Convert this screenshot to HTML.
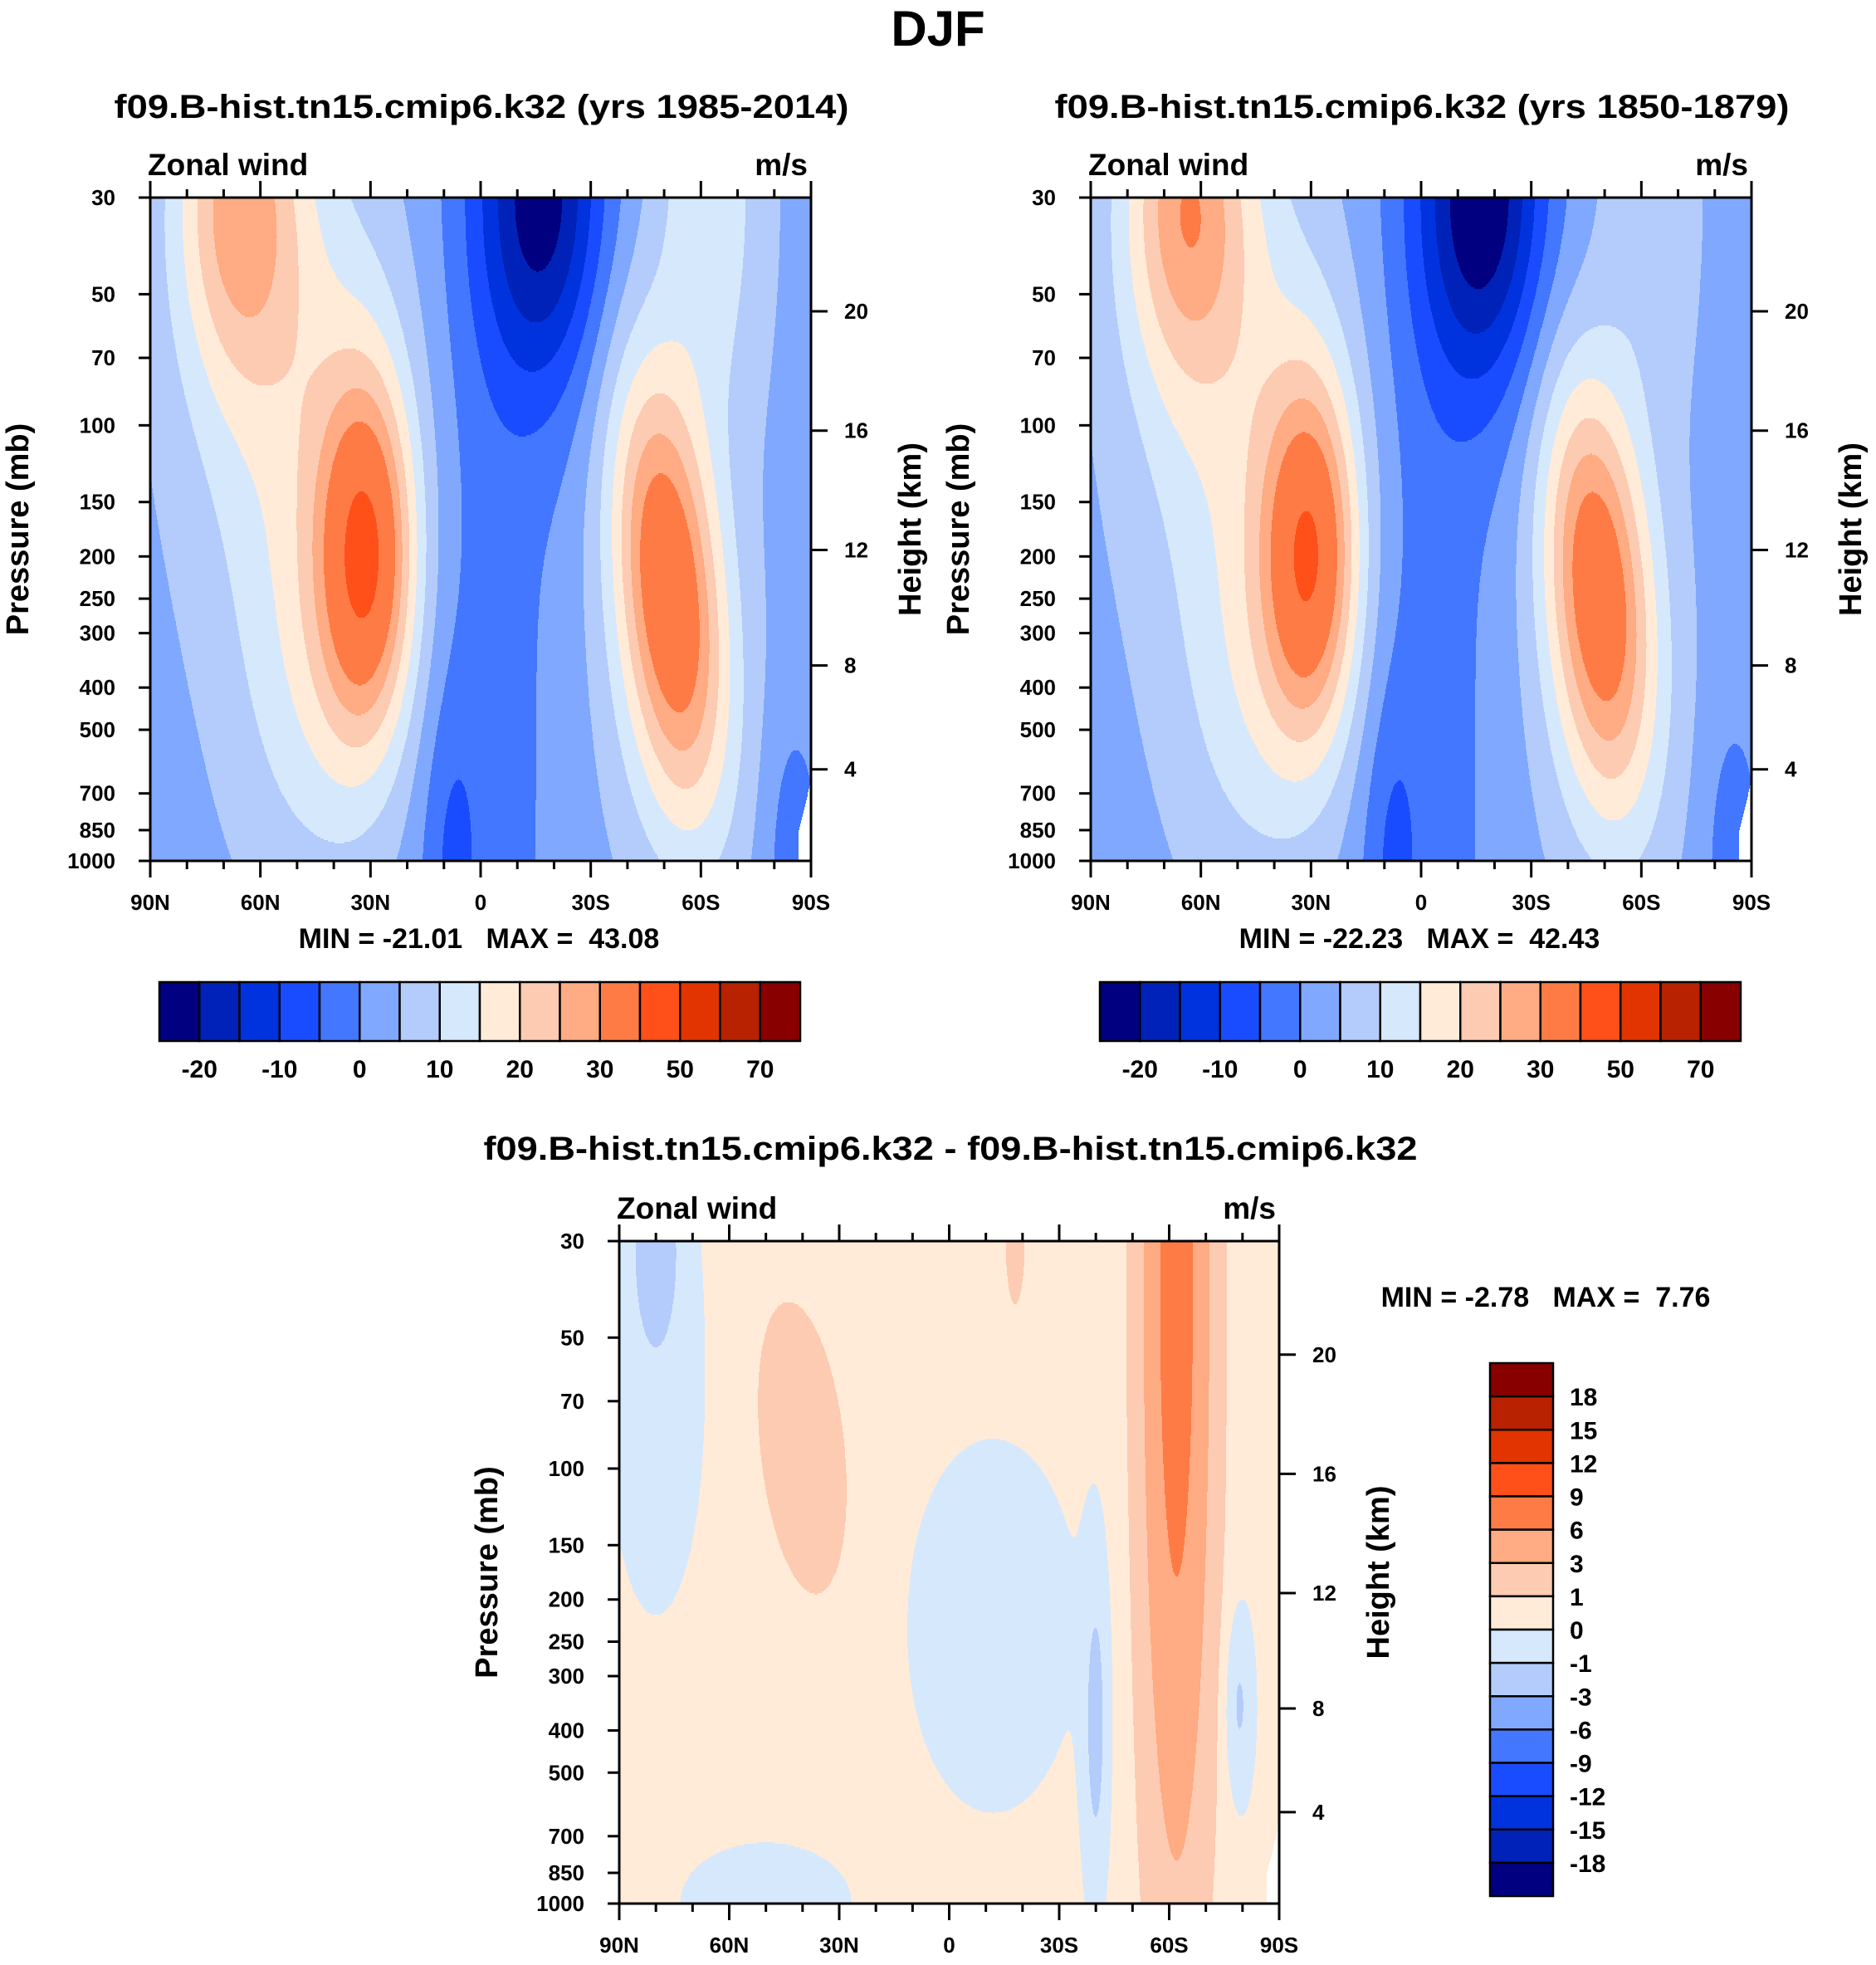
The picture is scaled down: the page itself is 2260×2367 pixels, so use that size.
<!DOCTYPE html>
<html><head><meta charset="utf-8"><title>DJF Zonal wind</title>
<style>
html,body{margin:0;padding:0;background:#fff;}
svg{display:block;font-family:"Liberation Sans",sans-serif;font-weight:bold;}
</style></head>
<body>
<svg id="fig" width="2260" height="2367" viewBox="0 0 2260 2367" xmlns="http://www.w3.org/2000/svg">
<rect x="0" y="0" width="2260" height="2367" fill="#fff"/>
<text x="1130" y="55" font-size="60" text-anchor="middle">DJF</text>
<text x="580" y="142" font-size="40" text-anchor="middle" textLength="885" lengthAdjust="spacingAndGlyphs">f09.B-hist.tn15.cmip6.k32 (yrs 1985-2014)</text>
<text x="1713" y="142" font-size="40" text-anchor="middle" textLength="885" lengthAdjust="spacingAndGlyphs">f09.B-hist.tn15.cmip6.k32 (yrs 1850-1879)</text>
<text x="1145" y="1397" font-size="40" text-anchor="middle" textLength="1125" lengthAdjust="spacingAndGlyphs">f09.B-hist.tn15.cmip6.k32 - f09.B-hist.tn15.cmip6.k32</text>
<g id="layer"></g>
</svg>
<script>
// ---- data ----
const pressTicks = [30,50,70,100,150,200,250,300,400,500,700,850,1000];
const kmTicks = [4,8,12,16,20];
const latTicks = [90,60,30,0,-30,-60,-90];
const latLabels = ["90N","60N","30N","0","30S","60S","90S"];
const windLevels = [-20,-15,-10,-5,0,5,10,15,20,25,30,40,50,60,70];
const windLabels = ["-20","-10","0","10","20","30","50","70"];
const diffLevels = [-18,-15,-12,-9,-6,-3,-1,0,1,3,6,9,12,15,18];
const diffLabels = ["18","15","12","9","6","3","1","0","-1","-3","-6","-9","-12","-15","-18"];
const colors = ["#000080","#0022b8","#0033dd","#1a4cff","#4477ff","#80a8ff","#b3ccfb","#d6e8fc","#ffebd8","#fdcbb1","#ffab83","#ff7b45","#ff5019","#e23400","#b82200","#880000"];
// field features: lat, pressure(mb), amplitude, lat width, ln-p width, tilt
const p1Lat  = [31, 66, 50, 45, -17, -2, 8, -51, -52, -62, -85];
const p1P    = [200, 30, 80, 400, 30, 300, 1000, 230, 400, 30, 1000];
const p1Amp  = [32, 21, 11, 8, -24, -5, -6, 30, 6, 11, -6];
const p1W    = [13, 17, 30, 22, 17, 20, 8, 14, 20, 15, 8];
const p1Ws   = [0.95, 0.95, 1.5, 1.2, 1.0, 5, 0.9, 1.15, 1.2, 1.3, 0.8];
const p1Tilt = [0, 0, 0, 0, 0, 0, 0, 5, 0, 0, 0];
const p2Lat  = [30, 64, 50, 45, -17, -2, 8, -48, -50, -62, -85];
const p2P    = [200, 30, 80, 400, 30, 300, 1000, 230, 400, 30, 1000];
const p2Amp  = [31, 22, 10, 8, -26, -5, -6, 29, 6, 6, -6];
const p2W    = [13, 17, 30, 22, 17, 20, 8, 14, 20, 14, 8];
const p2Ws   = [0.95, 0.95, 1.5, 1.2, 1.0, 5, 0.9, 1.1, 1.2, 1.3, 0.8];
const p2Tilt = [0, 0, 0, 0, 0, 0, 0, 4, 0, 0, 0];
const p3Lat  = [-62, 40, 80, -40, -79, 80, -12, 50, -18];
const p3P    = [40, 90, 30, 400, 350, 60, 230, 1000, 30];
const p3Amp  = [7.3, 1.8, -1.8, -1.6, -1.5, -0.8, -0.8, -0.7, 1.5];
const p3W    = [9, 12, 6, 3.5, 4, 14, 24, 25, 3];
const p3Ws   = [3.0, 0.8, 0.5, 0.9, 0.5, 1.3, 1.0, 0.35, 0.4];
const p3Tilt = [0, 5, 0, 0, 0, 0, 0, 0, 0];
const p1Base = 3, p2Base = 3, p3Base = 0.3;
const p1Min = "-21.01", p1Max = "43.08", p2Min = "-22.23", p2Max = "42.43", p3Min = "-2.78", p3Max = "7.76";

// ---- helpers ----
const NS = "http://www.w3.org/2000/svg";
const layer = document.getElementById('layer');
function mk(tag, attrs, parent){ const e=document.createElementNS(NS,tag); for(const k in attrs) e.setAttribute(k,attrs[k]); (parent||layer).appendChild(e); return e; }
function pOfKm(z){ return z<=11 ? 1013.25*Math.pow(1-z/44.33,5.256) : 226.3*Math.exp(-(z-11)/6.34); }
function field(lat, p, L, P, A, W, S, T, base){
  const s=Math.log(p); let v=base;
  for(let i=0;i<L.length;i++){
    const s0=Math.log(P[i]); const lat0=L[i]+T[i]*(s0-s);
    const a=(lat-lat0)/W[i], b=(s-s0)/S[i];
    v+=A[i]*Math.exp(-a*a-b*b);
  }
  return v;
}
function binOf(v, lev){ let b=0; while(b<lev.length && v>=lev[b]) b++; return b; }

function panel(id, X, Y, W, H, L, P, A, Wd, S, T, base, lev, masked, minS, maxS, mmX, mmY){
  const g=mk('g',{});
  
  
  const yOfP=p=>Y+Math.log(p/30)/Math.log(1000/30)*H;
  const xOfLat=lat=>X+(90-lat)/180*W;
  const step=2;
  for(let r=0;r<H;r+=step){
    const p=30*Math.pow(1000/30,(r+step/2)/H);
    let runStart=0, runBin=null;
    for(let c=0;c<=W;c++){
      let b=null;
      if(c<W){
        const lat=90-180*(c+0.5)/W;
        const v=field(lat,p,L,P,A,Wd,S,T,base);
        b=binOf(v,lev);
        if(masked && lat<-86.5 && p>650+ (lat+90)*60) b=-1;
      }
      if(c===0){runBin=b;runStart=0;continue;}
      if(b!==runBin){
        const rc=mk('rect',{x:X+runStart,y:Y+r,width:c-runStart,height:step,fill:runBin<0?'#fff':colors[runBin]},g);
        
        
        runStart=c; runBin=b;
      }
    }
  }
  const fr=mk('rect',{x:X,y:Y,width:W,height:H,fill:'none',stroke:'#000','stroke-width':3},g);
  
  
  for(let lat=90;lat>=-90;lat-=10){
    const x=xOfLat(lat); const major=(lat%30===0); const len=major?20:10;
    mk('line',{x1:x,y1:Y,x2:x,y2:Y-len,stroke:'#000','stroke-width':3},g);
    mk('line',{x1:x,y1:Y+H,x2:x,y2:Y+H+len,stroke:'#000','stroke-width':3},g);
  }
  latTicks.forEach((lat,i)=>{
    const t=mk('text',{x:xOfLat(lat),y:Y+H+59,'font-size':26,'text-anchor':'middle'},g);
    t.textContent=latLabels[i];
    
    
  });
  pressTicks.forEach(p=>{
    const y=yOfP(p);
    mk('line',{x1:X,y1:y,x2:X-14,y2:y,stroke:'#000','stroke-width':3},g);
    const t=mk('text',{x:X-42,y:y+9,'font-size':26,'text-anchor':'end'},g);
    t.textContent=String(p);
    
    
  });
  kmTicks.forEach(z=>{
    const y=yOfP(pOfKm(z));
    mk('line',{x1:X+W,y1:y,x2:X+W+20,y2:y,stroke:'#000','stroke-width':3},g);
    const t=mk('text',{x:X+W+40,y:y+9,'font-size':26},g);
    t.textContent=String(z);
    
    
  });
  const zw=mk('text',{x:X-3,y:Y-27,'font-size':37},g); zw.textContent='Zonal wind';
  
  
  const un=mk('text',{x:X+W-4,y:Y-27,'font-size':37,'text-anchor':'end'},g); un.textContent='m/s';
  
  
  const yl=mk('text',{x:0,y:0,'font-size':38,'text-anchor':'middle',transform:`translate(${X-147},${Y+H/2}) rotate(-90)`},g); yl.textContent='Pressure (mb)';
  
  
  const hl=mk('text',{x:0,y:0,'font-size':38,'text-anchor':'middle',transform:`translate(${X+W+132},${Y+H/2}) rotate(-90)`},g); hl.textContent='Height (km)';
  
  
  const mm=mk('text',{x:mmX,y:mmY,'font-size':34,'text-anchor':'middle',style:'white-space:pre'},g);
  mm.textContent='MIN = '+minS+'   MAX =  '+maxS;
  
  
}

function hbar(id, X, Y, W, H){
  const g=mk('g',{});
  
  
  const bw=W/colors.length;
  colors.forEach((c,i)=>{
    const r=mk('rect',{x:X+i*bw,y:Y,width:bw,height:H,fill:c,stroke:'#000','stroke-width':2.5},g);
    
    
  });
  windLabels.forEach((lab,i)=>{
    const t=mk('text',{x:X+(2*i+1)*bw,y:Y+H+44,'font-size':30,'text-anchor':'middle'},g);
    t.textContent=lab;
    
    
  });
}
function vbar(id, X, Y, W, H){
  const g=mk('g',{});
  
  
  const bh=H/colors.length;
  colors.slice().reverse().forEach((c,i)=>{
    const r=mk('rect',{x:X,y:Y+i*bh,width:W,height:bh,fill:c,stroke:'#000','stroke-width':2.5},g);
    
    
  });
  diffLabels.forEach((lab,i)=>{
    const t=mk('text',{x:X+W+20,y:Y+(i+1)*bh+11,'font-size':30},g);
    t.textContent=lab;
    
    
  });
}

panel('panel-1985-2014',181,238,796,799,p1Lat,p1P,p1Amp,p1W,p1Ws,p1Tilt,p1Base,windLevels,true,p1Min,p1Max,577,1142);
panel('panel-1850-1879',1314,238,796,799,p2Lat,p2P,p2Amp,p2W,p2Ws,p2Tilt,p2Base,windLevels,true,p2Min,p2Max,1710,1142);
panel('panel-difference',746,1495,795,798,p3Lat,p3P,p3Amp,p3W,p3Ws,p3Tilt,p3Base,diffLevels,true,p3Min,p3Max,1862,1574);
hbar('colorbar-1',192,1183,772,71);
hbar('colorbar-2',1325,1183,772,71);
vbar('colorbar-diff',1795,1642,76,642);
</script>
</body></html>
